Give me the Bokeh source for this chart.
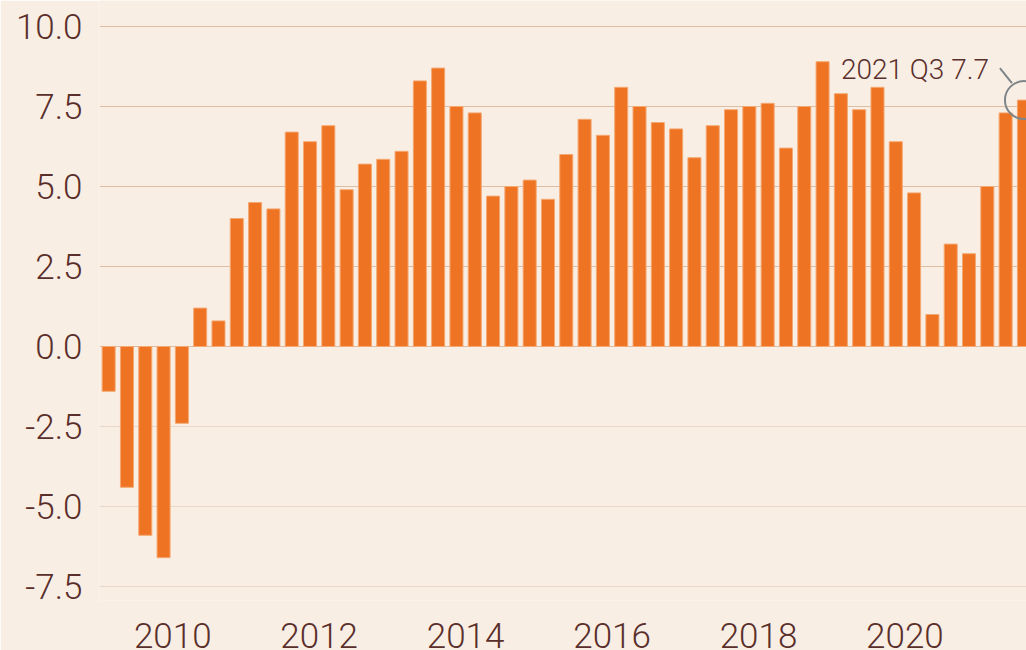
from bokeh.plotting import figure
from bokeh.models import FixedTicker, NumeralTickFormatter, Range1d, Grid, ColumnDataSource
from bokeh.core.properties import value
from bokeh.embed import file_html
from bokeh.resources import INLINE

# ---- data ----
years = [2009] * 4 + [2010] * 4 + [2011] * 4 + [2012] * 4 + [2013] * 4 + [2014] * 4 + \
        [2015] * 4 + [2016] * 4 + [2017] * 4 + [2018] * 4 + [2019] * 4 + [2020] * 4 + [2021] * 3
quarters = [1, 2, 3, 4] * 12 + [1, 2, 3]
growth = [-1.4, -4.4, -5.9, -6.6,
          -2.4, 1.2, 0.8, 4.0,
          4.5, 4.3, 6.7, 6.4,
          6.9, 4.9, 5.7, 5.85,
          6.1, 8.3, 8.7, 7.5,
          7.3, 4.7, 5.0, 5.2,
          4.6, 6.0, 7.1, 6.6,
          8.1, 7.5, 7.0, 6.8,
          5.9, 6.9, 7.4, 7.5,
          7.6, 6.2, 7.5, 8.9,
          7.9, 7.4, 8.1, 6.4,
          4.8, 1.0, 3.2, 2.9,
          5.0, 7.3, 7.7]
y_ticks = [-7.5, -5.0, -2.5, 0.0, 2.5, 5.0, 7.5, 10.0]
x_ticks = [2010, 2012, 2014, 2016, 2018, 2020]

# ---- styling ----
BG = "#F9EEE4"
BAR = "#EE7322"
BAR_EDGE = "#F5A872"
TEXT = "#5A2F2B"
GRID_POS = "#DDBDA3"
GRID_NEG = "#E9D6C7"
ANNOT = "#7E8589"
FONT = "Roboto Light"

W, H = 1026, 650
LEFT, RIGHT, TOP, BOTTOM = 99, 0, 0, 50
X0, X1 = 2009.0, 2021.66
PPY = 32.0
Y1 = 10.8125
Y0 = Y1 - (H - TOP - BOTTOM) / PPY

xs = [y + (q - 0.5) / 4 for y, q in zip(years, quarters)]
labels = [f"{y} Q{q}" for y, q in zip(years, quarters)]
src = ColumnDataSource(dict(x=xs, top=growth, label=labels))

p = figure(width=W, height=H, output_backend="svg", toolbar_location=None,
           x_range=Range1d(X0, X1), y_range=Range1d(Y0, Y1),
           min_border_left=LEFT, min_border_right=RIGHT, min_border_top=TOP,
           min_border_bottom=BOTTOM)
p.background_fill_color = BG
p.border_fill_color = BG
p.outline_line_color = None

# grids
p.xgrid.visible = False
p.ygrid.ticker = FixedTicker(ticks=[t for t in y_ticks if t >= 0])
p.ygrid.grid_line_color = GRID_POS
p.ygrid.grid_line_width = 1.2
neg_grid = Grid(dimension=1, ticker=FixedTicker(ticks=[t for t in y_ticks if t < 0]),
                grid_line_color=GRID_NEG, grid_line_width=1.2)
p.add_layout(neg_grid)

# axes
for ax in (p.xaxis[0], p.yaxis[0]):
    ax.axis_line_color = None
    ax.major_tick_line_color = None
    ax.minor_tick_line_color = None
    ax.major_tick_out = 0
    ax.major_tick_in = 0
    ax.major_label_text_font = FONT
    ax.major_label_text_font_size = "35px"
    ax.major_label_text_color = TEXT
p.yaxis.ticker = FixedTicker(ticks=y_ticks)
p.yaxis.formatter = NumeralTickFormatter(format="0.0")
p.yaxis.major_label_standoff = 17
p.xaxis.ticker = FixedTicker(ticks=x_ticks)
p.xaxis.formatter = NumeralTickFormatter(format="0")
p.xaxis.major_label_standoff = 22

# bars
p.vbar(x="x", top="top", bottom=0, width=0.178, source=src,
       fill_color=BAR, line_color=BAR_EDGE, line_width=1)

# annotation for latest quarter
xl, yl, ll = xs[-1], growth[-1], labels[-1]
p.scatter([xl], [yl], size=38, marker="circle", fill_color=None,
          line_color=ANNOT, line_width=2)
ppx = (W - LEFT - RIGHT) / (X1 - X0)
p.segment(x0=[xl - 24 / ppx], y0=[yl + 32 / PPY], x1=[xl - 12 / ppx], y1=[yl + 17 / PPY],
          line_color=ANNOT, line_width=2)
p.text(x=[xl], y=[yl], text=[f"{ll} {yl}"], x_offset=-35, y_offset=-31,
       text_align="right", text_baseline="alphabetic",
       text_font=value(FONT), text_font_size="28px", text_color=TEXT)

open("out.html", "w").write(file_html(p, INLINE))
